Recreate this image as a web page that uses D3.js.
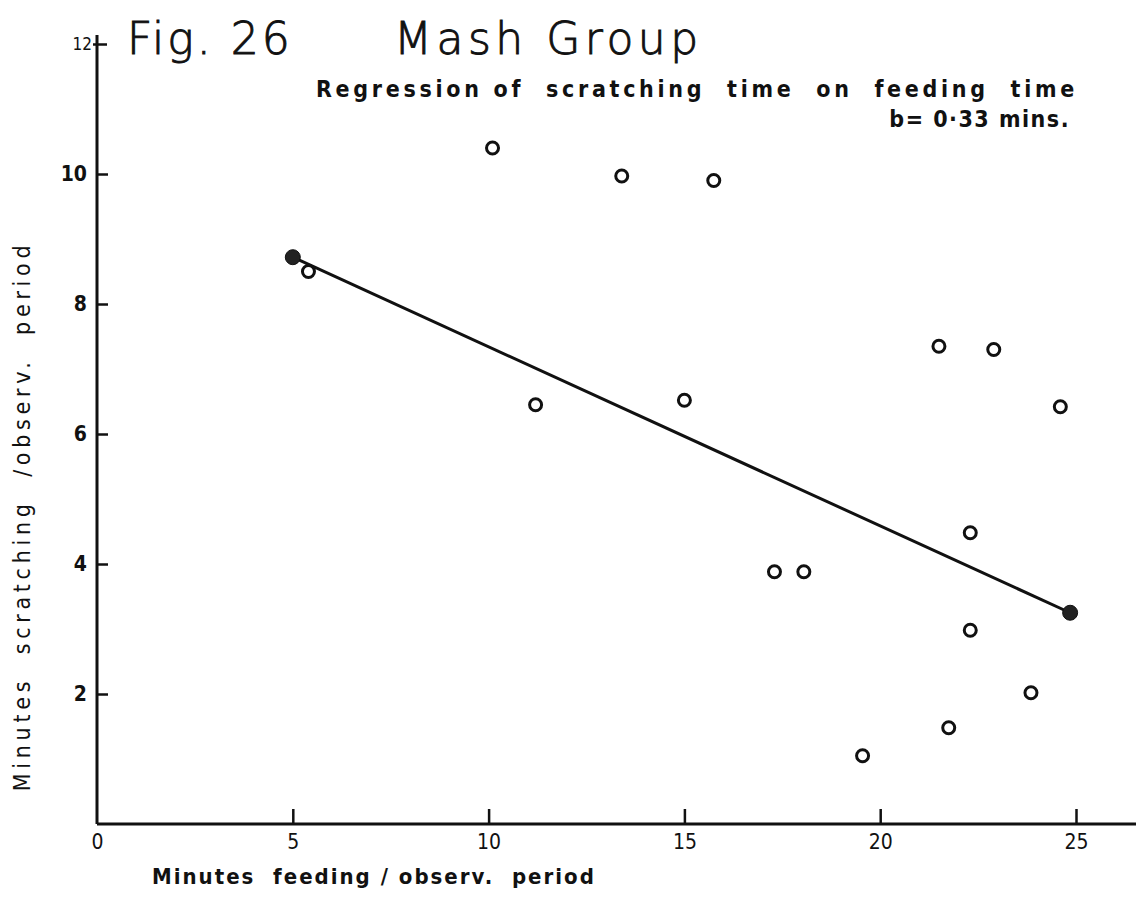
<!DOCTYPE html>
<html><head><meta charset="utf-8">
<script src="https://cdn.jsdelivr.net/npm/d3@7"></script>
<style>
body{margin:0;background:#fff;}
svg{display:block;}
text{fill:#111;white-space:pre;}
</style></head>
<body>
<svg id="c" width="1144" height="897"></svg>
<script>
// Data
const feeding = [5.4, 10.1, 13.4, 15.75, 11.2, 15.0, 17.3, 18.05, 19.55, 21.5, 22.9, 24.6, 22.3, 22.3, 21.75, 23.85];
const scratching = [8.5, 10.4, 9.97, 9.9, 6.45, 6.52, 3.88, 3.88, 1.05, 7.35, 7.3, 6.42, 4.48, 2.98, 1.48, 2.02];
const regressionX = [5.0, 24.85];
const regressionY = [8.72, 3.25];
const xTicks = [0, 5, 10, 15, 20, 25];
const yTicks = [2, 4, 6, 8, 10, 12];

const svg = d3.select("#c");
const x = d3.scaleLinear().domain([0, 25]).range([97, 1076]);
const y = d3.scaleLinear().domain([0, 12]).range([824, 44]);
const font = "'DejaVu Sans Condensed','DejaVu Sans',sans-serif";

// X axis
const xAxis = d3.axisBottom(x).tickValues(xTicks).tickSize(-15).tickPadding(22).tickFormat(d3.format("d"));
const gx = svg.append("g").attr("transform", "translate(0,824)").call(xAxis);
gx.select(".domain").remove();
gx.append("line").attr("x1", x(0)).attr("x2", 1136).attr("y1", 0).attr("y2", 0).attr("stroke", "#111").attr("stroke-width", 3);
gx.selectAll(".tick line").attr("stroke", "#111").attr("stroke-width", 2.5).attr("y1", 0);
gx.selectAll(".tick").filter(d => d === 0).select("line").remove();
gx.selectAll(".tick text").attr("font-family", font).attr("font-size", 21).attr("fill", "#111").attr("dy", "0.15em");

// Y axis
const yAxis = d3.axisLeft(y).tickValues(yTicks).tickSize(-11).tickPadding(10).tickFormat(d3.format("d"));
const gy = svg.append("g").attr("transform", "translate(97,0)").call(yAxis);
gy.select(".domain").remove();
gy.append("line").attr("x1", 0).attr("x2", 0).attr("y1", 824).attr("y2", 35).attr("stroke", "#111").attr("stroke-width", 3);
gy.selectAll(".tick line").attr("stroke", "#111").attr("stroke-width", 2.5);
gy.selectAll(".tick text").attr("font-family", font).attr("font-size", 21).attr("font-weight", "bold").attr("fill", "#111");
gy.selectAll(".tick").filter(d => d === 12).select("line").attr("x1", -4).attr("x2", 10);
gy.selectAll(".tick").filter(d => d === 12).select("text").attr("font-size", 17).attr("font-weight", "normal").attr("x", -5);

// Regression line
svg.append("line")
  .attr("x1", x(regressionX[0])).attr("y1", y(regressionY[0]))
  .attr("x2", x(regressionX[1])).attr("y2", y(regressionY[1]))
  .attr("stroke", "#111").attr("stroke-width", 3);

// Filled end points
svg.selectAll("circle.f").data(regressionX).enter().append("circle")
  .attr("class", "f")
  .attr("cx", (d) => x(d)).attr("cy", (d, i) => y(regressionY[i]))
  .attr("r", 7.5).attr("fill", "#222").attr("stroke", "#111").attr("stroke-width", 1);

// Open points
svg.selectAll("circle.o").data(feeding).enter().append("circle")
  .attr("class", "o")
  .attr("cx", d => x(d)).attr("cy", (d, i) => y(scratching[i]))
  .attr("r", 6).attr("fill", "none").attr("stroke", "#111").attr("stroke-width", 3);

// Titles
svg.append("text").attr("x", 127).attr("y", 54).attr("font-family", "'DejaVu Sans',sans-serif")
  .attr("font-size", 44).attr("font-weight", 300).attr("letter-spacing", 3)
  .attr("stroke", "#111").attr("stroke-width", 0.9).text("Fig. 26");
svg.append("text").attr("x", 394).attr("y", 54).attr("font-family", "'DejaVu Sans',sans-serif")
  .attr("font-size", 44).attr("font-weight", 300).attr("letter-spacing", 4.5)
  .attr("stroke", "#111").attr("stroke-width", 0.9).text("Mash Group");
svg.append("text").attr("x", 1078).attr("y", 97).attr("text-anchor", "end").attr("font-family", font)
  .attr("font-size", 23).attr("font-weight", "bold").attr("letter-spacing", 3.7)
  .text("Regression of  scratching  time  on  feeding  time");
svg.append("text").attr("x", 1070).attr("y", 127).attr("text-anchor", "end").attr("font-family", font)
  .attr("font-size", 23).attr("font-weight", "bold").attr("letter-spacing", 1.5)
  .text("b= 0·33 mins.");

// Axis labels
svg.append("text").attr("x", 152).attr("y", 884).attr("font-family", font)
  .attr("font-size", 22).attr("font-weight", "bold").attr("letter-spacing", 2)
  .text("Minutes  feeding / observ.  period");
svg.append("text").attr("transform", "translate(30,516) rotate(-90)").attr("text-anchor", "middle")
  .attr("font-family", font).attr("font-size", 23).attr("letter-spacing", 4.7)
  .text("Minutes  scratching  /observ.  period");
</script>
</body></html>
